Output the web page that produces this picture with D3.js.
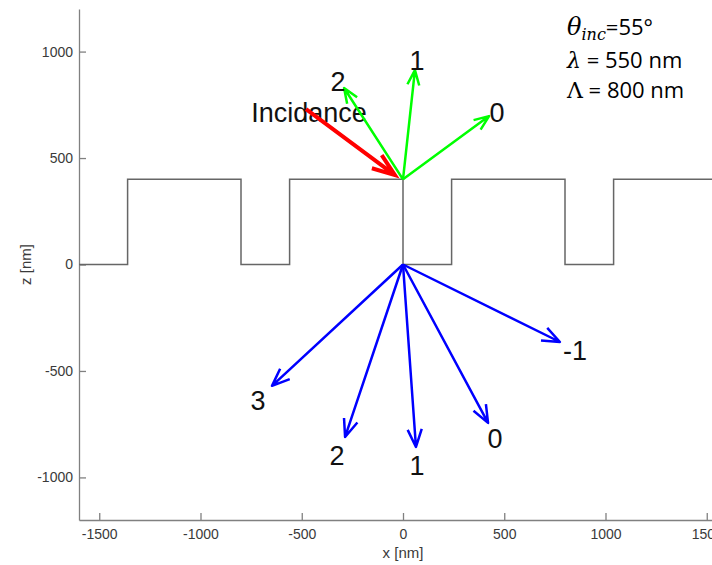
<!DOCTYPE html>
<html>
<head>
<meta charset="utf-8">
<script src="https://cdn.jsdelivr.net/npm/d3@7"></script>
<style>
  body { margin: 0; background: #fff; }
  svg { display: block; }
</style>
</head>
<body>
<script>
// Grating profile (nm).
var profileX = [-1600, -1360, -1360, -800, -800, -560, -560, 0, 0, 240, 240, 800, 800, 1040, 1040, 1600],
  profileZ = [0, 0, 400, 400, 0, 0, 400, 400, 0, 0, 400, 400, 0, 0, 400, 400];

// Incident beam.
var incStart = [-479, 730],
  incEnd = [-40, 420],
  incLabel = "Incidance",
  incLabelPos = [-464, 716];

// Reflected orders, from (0, 400).
var reflOrigin = [0, 400],
  reflOrders = ["0", "1", "2"],
  reflTipX = [425, 59, -291],
  reflTipZ = [697, 913, 829],
  reflLabelX = [464, 69, -321],
  reflLabelZ = [716, 960, 861];

// Transmitted orders, from (0, 0).
var transOrigin = [0, 0],
  transOrders = ["-1", "0", "1", "2", "3"],
  transTipX = [775, 420, 64, -286, -647],
  transTipZ = [-364, -744, -857, -810, -570],
  transLabelX = [849, 454, 69, -326, -716],
  transLabelZ = [-401, -815, -941, -894, -636];

var xTicks = [-1500, -1000, -500, 0, 500, 1000, 1500],
  zTicks = [-1000, -500, 0, 500, 1000];

var width = 712,
  height = 565,
  labelFont = '"Liberation Sans", Arial, sans-serif';

var svg = d3.select("body").append("svg")
    .attr("width", width)
    .attr("height", height);

var x = d3.scaleLinear().domain([-1600, 1600]).range([79, 727]),
  z = d3.scaleLinear().domain([-1200, 1200]).range([520, 9]);

// Axes (MATLAB style, ticks inside, plain hyphen minus).
function plain(d) { return String(d); }

function styleAxis(g) {
  g.select(".domain").attr("stroke", "#808080").attr("stroke-width", 1.3);
  g.selectAll(".tick line").attr("stroke", "#808080").attr("stroke-width", 1.3);
  g.selectAll(".tick text")
      .style("font-family", labelFont)
      .style("font-size", "14px")
      .attr("fill", "#3a3a3a");
}

svg.append("g")
    .attr("transform", "translate(0," + z(-1200) + ")")
    .call(d3.axisBottom(x).tickValues(xTicks).tickFormat(plain)
      .tickSizeInner(-7).tickSizeOuter(0).tickPadding(9))
    .call(styleAxis);

svg.append("g")
    .attr("transform", "translate(" + x(-1600) + ",0)")
    .call(d3.axisLeft(z).tickValues(zTicks).tickFormat(plain)
      .tickSizeInner(-7).tickSizeOuter(0).tickPadding(6))
    .call(styleAxis);

svg.append("text")
    .attr("x", x(0))
    .attr("y", 558)
    .attr("text-anchor", "middle")
    .style("font-family", labelFont)
    .style("font-size", "15px")
    .style("fill", "#3a3a3a")
    .text("x [nm]");

svg.append("text")
    .attr("transform", "translate(31," + z(0) + ") rotate(-90)")
    .attr("text-anchor", "middle")
    .style("font-family", labelFont)
    .style("font-size", "15px")
    .style("fill", "#3a3a3a")
    .text("z [nm]");

// Profile.
var line = d3.line()
  .x(function(d) { return x(d[0]); })
  .y(function(d) { return z(d[1]); });

svg.append("path")
    .attr("d", line(d3.zip(profileX, profileZ)))
    .attr("fill", "none")
    .attr("stroke", "#666")
    .attr("stroke-width", 1.5);

// Arrow path in pixel space: shaft plus two open barbs.
function arrowPath(from, to, barb, spread) {
  var x0 = x(from[0]), y0 = z(from[1]), x1 = x(to[0]), y1 = z(to[1]);
  var a = Math.atan2(y1 - y0, x1 - x0);
  var b1 = [x1 - barb * Math.cos(a - spread), y1 - barb * Math.sin(a - spread)],
    b2 = [x1 - barb * Math.cos(a + spread), y1 - barb * Math.sin(a + spread)];
  return "M" + x0 + "," + y0 + "L" + x1 + "," + y1 +
    "M" + b1[0] + "," + b1[1] + "L" + x1 + "," + y1 + "L" + b2[0] + "," + b2[1];
}

function drawArrows(origin, tipX, tipZ, color, widthPx, barb) {
  svg.append("g").selectAll("path")
      .data(d3.zip(tipX, tipZ))
    .enter().append("path")
      .attr("d", function(d) { return arrowPath(origin, d, barb, 0.38); })
      .attr("fill", "none")
      .attr("stroke", color)
      .attr("stroke-width", widthPx)
      .attr("stroke-linejoin", "round");
}

function drawLabels(texts, lx, lz) {
  svg.append("g").selectAll("text")
      .data(texts)
    .enter().append("text")
      .attr("x", function(d, i) { return x(lx[i]); })
      .attr("y", function(d, i) { return z(lz[i]); })
      .attr("text-anchor", "middle")
      .attr("dy", "0.36em")
      .style("font-family", labelFont)
      .style("font-size", "27px")
      .style("fill", "#111")
      .text(function(d) { return d; });
}

// Transmitted (blue).
drawArrows(transOrigin, transTipX, transTipZ, "#0000ff", 2.5, 19);
drawLabels(transOrders, transLabelX, transLabelZ);

// Incident label under the red arrow.
drawLabels([incLabel], [incLabelPos[0]], [incLabelPos[1]]);
svg.append("path")
    .attr("d", arrowPath(incStart, incEnd, 24, 0.35))
    .attr("fill", "none")
    .attr("stroke", "#ff0000")
    .attr("stroke-width", 4);

// Reflected (green).
drawArrows(reflOrigin, reflTipX, reflTipZ, "#00ff00", 2.5, 16);
drawLabels(reflOrders, reflLabelX, reflLabelZ);

// Parameters box.
var serif = '"DejaVu Serif", serif',
  sans = '"Open Sans", Lato, sans-serif';
var info = svg.append("g").style("font-size", "22px").style("fill", "#000");

var t1 = info.append("text").attr("x", 567).attr("y", 35);
t1.append("tspan").style("font-family", serif).style("font-style", "italic")
    .style("font-size", "24px").text("θ");
t1.append("tspan").style("font-family", serif).style("font-style", "italic")
    .style("font-size", "16px").attr("dy", 5).text("inc");
t1.append("tspan").style("font-family", sans).attr("dy", -5).text("=55°");

var t2 = info.append("text").attr("x", 567).attr("y", 68);
t2.append("tspan").style("font-family", serif).style("font-style", "italic").text("λ");
t2.append("tspan").style("font-family", sans).text(" = 550 nm");

var t3 = info.append("text").attr("x", 567).attr("y", 98);
t3.append("tspan").style("font-family", serif).text("Λ");
t3.append("tspan").style("font-family", sans).text(" = 800 nm");
</script>
</body>
</html>
